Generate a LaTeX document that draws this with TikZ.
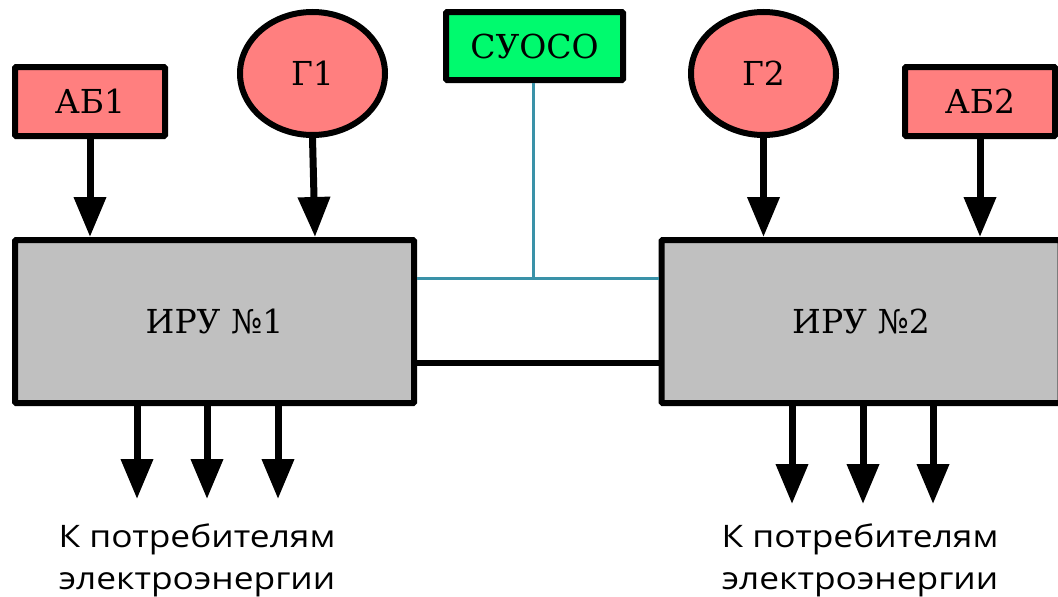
\documentclass[tikz,border=0pt]{standalone}
\usepackage{fontspec}
\setmainfont{DejaVu Serif}
\newfontfamily\capfont[FakeStretch=1.14]{Open Sans}
\usetikzlibrary{arrows.meta,shapes.geometric}
\definecolor{pinkfill}{HTML}{FF7F7F}
\definecolor{greenfill}{HTML}{00FA6E}
\definecolor{grayfill}{HTML}{C0C0C0}
\definecolor{tealline}{HTML}{3A92A8}
\tikzset{
  box/.style={draw=black, line width=6pt, rounded corners=1pt, inner sep=0pt, font=\fontsize{33}{36}\selectfont},
  srcbox/.style={box, fill=pinkfill, minimum width=150pt, minimum height=69pt},
  gen/.style={box, ellipse, fill=pinkfill, minimum width=145pt, minimum height=123pt},
  ctrl/.style={box, fill=greenfill, minimum width=177pt, minimum height=68pt},
  iru/.style={box, fill=grayfill, minimum width=399pt, minimum height=163pt},
  arr/.style={line width=7pt, -{Triangle[length=40pt,width=31pt]}},
  sig/.style={draw=tealline, line width=3pt},
  link/.style={draw=black, line width=6pt},
  captext/.style={inner sep=0pt, anchor=base, font=\capfont\fontsize{31}{44}\selectfont}
}
\begin{document}
\begin{tikzpicture}[x=1pt,y=-1pt]
\useasboundingbox (0,0) rectangle (1058,597);
\clip (0,0) rectangle (1058,597);
\node[srcbox] (ab1) at (90,101.5) {АБ1};
\node[gen] (g1) at (312.5,73.5) {Г1};
\node[ctrl] (suoso) at (534.5,46) {СУОСО};
\node[gen] (g2) at (763.5,73.5) {Г2};
\node[srcbox] (ab2) at (980,101.5) {АБ2};
\node[iru] (iru1) at (214.5,321.5) {ИРУ №1};
\node[iru] (iru2) at (861,321.5) {ИРУ №2};
% inputs
\coordinate (g1tip) at (315,237);
\draw[arr] (ab1.south) -- (ab1.south |- iru1.north);
\draw[arr] (g1.south) -- (g1tip);
\draw[arr] (g2.south) -- (g2.south |- iru2.north);
\draw[arr] (ab2.south) -- (ab2.south |- iru2.north);
% control lines
\coordinate (junc) at (533,278);
\draw[sig] (suoso.south -| junc) -- (junc);
\draw[sig] (iru1.east |- junc) -- (iru2.west |- junc);
% power link
\coordinate (pl) at (0,362.5);
\draw[link] (iru1.east |- pl) -- (iru2.west |- pl);
% outputs
\foreach \x/\n in {137/a,207/b,278/c}{
  \coordinate (o1\n) at (\x,499);
  \draw[arr] (iru1.south -| o1\n) -- (o1\n);
}
\foreach \x/\n in {792/a,863/b,933/c}{
  \coordinate (o2\n) at (\x,504);
  \draw[arr] (iru2.south -| o2\n) -- (o2\n);
}
\node[captext] (c1a) at (197,547) {К потребителям};
\node[captext] (c1b) at (197,589) {электроэнергии};
\node[captext] (c2a) at (860,547) {К потребителям};
\node[captext] (c2b) at (860,589) {электроэнергии};
\end{tikzpicture}
\end{document}
